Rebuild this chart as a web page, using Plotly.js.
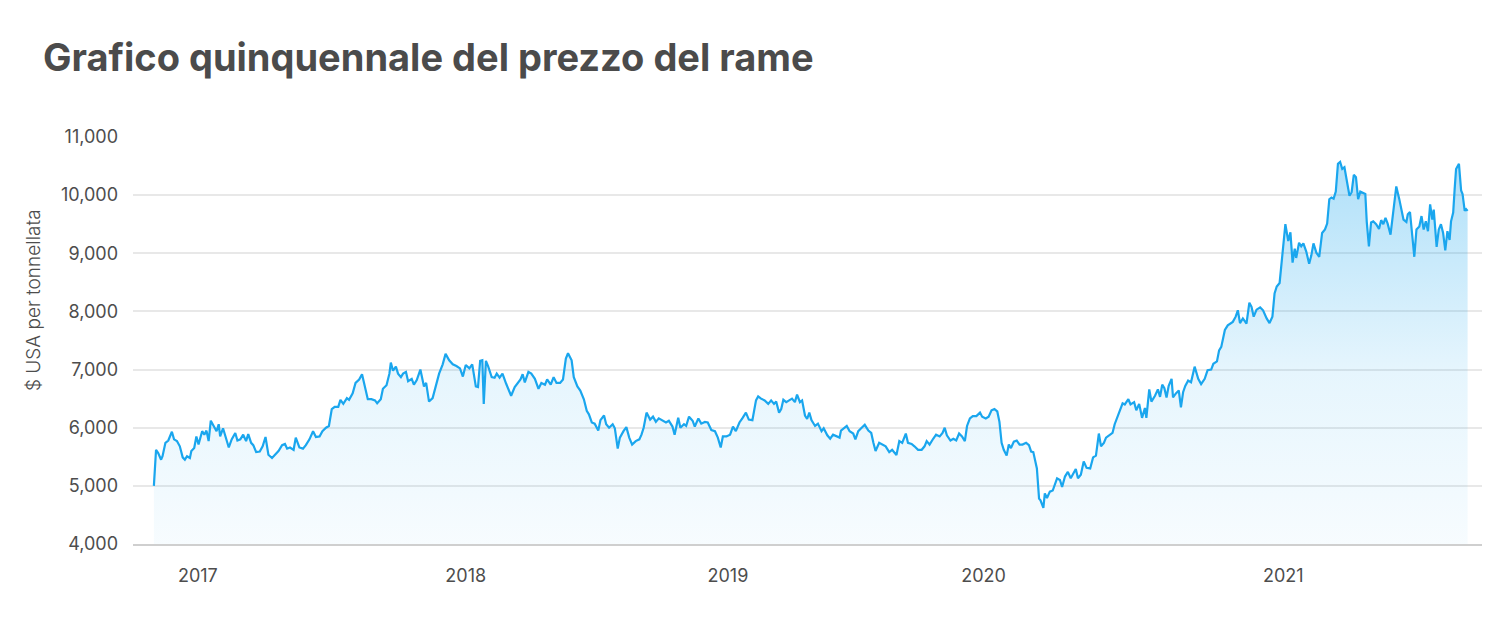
<!DOCTYPE html>
<html>
<head>
<meta charset="utf-8">
<script src="https://cdn.plot.ly/plotly-3.0.1.min.js"></script>
<style>
  html, body { margin: 0; padding: 0; background: #ffffff; }
  #chart { width: 1500px; height: 628px; }
</style>
</head>
<body>
<div id="chart"></div>
<script>
// Copper price, US$ per tonne
const dates2016_2017 = [
  '2016-11-08','2016-11-11','2016-11-14','2016-11-18','2016-11-20','2016-11-24','2016-11-28','2016-12-03','2016-12-06','2016-12-10',
  '2016-12-14','2016-12-18','2016-12-21','2016-12-24','2016-12-28','2016-12-30','2017-01-03','2017-01-06','2017-01-09','2017-01-14',
  '2017-01-17','2017-01-20','2017-01-23','2017-01-26','2017-01-30','2017-02-03','2017-02-06','2017-02-08','2017-02-12','2017-02-16',
  '2017-02-20','2017-02-24','2017-03-01','2017-03-04','2017-03-08','2017-03-12','2017-03-16','2017-03-19','2017-03-23','2017-03-26',
  '2017-03-30','2017-04-04','2017-04-08','2017-04-12','2017-04-16','2017-04-21','2017-04-25','2017-04-30','2017-05-05','2017-05-09',
  '2017-05-12','2017-05-16','2017-05-21','2017-05-24','2017-05-29','2017-06-03','2017-06-07','2017-06-12','2017-06-17','2017-06-21',
  '2017-06-26','2017-06-30','2017-07-05','2017-07-09','2017-07-13','2017-07-17','2017-07-22','2017-07-25','2017-07-29','2017-08-03',
  '2017-08-06','2017-08-11','2017-08-15','2017-08-20','2017-08-24','2017-08-28','2017-09-01','2017-09-06','2017-09-11','2017-09-14',
  '2017-09-19','2017-09-22','2017-09-27','2017-10-01','2017-10-03','2017-10-06','2017-10-10','2017-10-13','2017-10-17','2017-10-20',
  '2017-10-24','2017-10-27','2017-11-01','2017-11-04','2017-11-08','2017-11-13','2017-11-18','2017-11-21','2017-11-25','2017-11-30',
  '2017-12-04','2017-12-09','2017-12-14','2017-12-18','2017-12-23','2017-12-28'
];
const prices2016_2017 = [
  5000,5620,5565,5450,5510,5740,5780,5930,5800,5770,
  5680,5490,5450,5510,5480,5600,5650,5850,5710,5940,
  5880,5950,5770,6120,6030,5940,6060,5850,5990,5800,
  5660,5800,5910,5780,5800,5880,5770,5890,5740,5700,
  5580,5590,5680,5840,5535,5480,5535,5600,5700,5720,
  5640,5660,5620,5830,5660,5640,5700,5800,5940,5840,
  5850,5940,6000,6030,6320,6360,6360,6480,6410,6510,
  6480,6590,6770,6830,6920,6730,6490,6490,6470,6420,
  6490,6670,6730,6930,7120,6980,7050,6930,6870,6930,
  6960,6800,6840,6740,6820,7000,6710,6770,6450,6510,
  6700,6930,7090,7270,7160,7090
];

const dates2018 = [
  '2018-01-02','2018-01-07','2018-01-11','2018-01-15','2018-01-20','2018-01-24','2018-01-29','2018-02-01','2018-02-04','2018-02-07',
  '2018-02-09','2018-02-12','2018-02-15','2018-02-20','2018-02-24','2018-02-27','2018-03-03','2018-03-07','2018-03-12','2018-03-16',
  '2018-03-19','2018-03-24','2018-03-29','2018-04-01','2018-04-04','2018-04-07','2018-04-12','2018-04-16','2018-04-21','2018-04-26',
  '2018-04-30','2018-05-05','2018-05-08','2018-05-13','2018-05-17','2018-05-21','2018-05-26','2018-05-30','2018-06-03','2018-06-06',
  '2018-06-11','2018-06-14','2018-06-19','2018-06-23','2018-06-28','2018-07-02','2018-07-05','2018-07-09','2018-07-13','2018-07-18',
  '2018-07-21','2018-07-26','2018-07-29','2018-08-02','2018-08-07','2018-08-10','2018-08-14','2018-08-17','2018-08-22','2018-08-26',
  '2018-08-30','2018-09-03','2018-09-08','2018-09-13','2018-09-16','2018-09-19','2018-09-23','2018-09-28','2018-10-02','2018-10-06',
  '2018-10-10','2018-10-15','2018-10-20','2018-10-24','2018-10-29','2018-11-01','2018-11-06','2018-11-09','2018-11-14','2018-11-17',
  '2018-11-21','2018-11-26','2018-11-29','2018-12-04','2018-12-08','2018-12-13','2018-12-17','2018-12-22','2018-12-27','2018-12-31'
];
const prices2018 = [
  7060,7020,6880,7080,7020,7090,6710,6700,7150,7160,
  6410,7150,7060,6870,6860,6930,6860,6930,6760,6640,
  6550,6700,6770,6830,6920,6780,6960,6930,6840,6670,
  6770,6740,6830,6740,6870,6770,6770,6830,7190,7280,
  7160,6870,6710,6640,6490,6290,6230,6090,6070,5950,
  6130,6210,6060,6000,6060,5990,5640,5830,5940,6010,
  5830,5710,5770,5800,5880,6000,6260,6140,6190,6100,
  6160,6120,6090,6120,6020,5880,6170,6000,6060,6030,
  6190,6120,6020,6160,6070,6100,6090,5960,5940,5830
];

const dates2019 = [
  '2019-01-04','2019-01-07','2019-01-12','2019-01-17','2019-01-21','2019-01-25','2019-01-30','2019-02-03','2019-02-08','2019-02-12',
  '2019-02-17','2019-02-22','2019-02-25','2019-03-01','2019-03-06','2019-03-11','2019-03-15','2019-03-19','2019-03-22','2019-03-26',
  '2019-03-29','2019-04-01','2019-04-05','2019-04-09','2019-04-13','2019-04-17','2019-04-20','2019-04-24','2019-04-27','2019-05-01',
  '2019-05-04','2019-05-07','2019-05-10','2019-05-15','2019-05-19','2019-05-24','2019-05-27','2019-06-01','2019-06-05','2019-06-09',
  '2019-06-14','2019-06-18','2019-06-20','2019-06-25','2019-06-28','2019-07-02','2019-07-07','2019-07-10','2019-07-14','2019-07-18',
  '2019-07-23','2019-07-28','2019-08-01','2019-08-04','2019-08-07','2019-08-12','2019-08-16','2019-08-21','2019-08-26','2019-08-30',
  '2019-09-05','2019-09-09','2019-09-13','2019-09-18','2019-09-21','2019-09-26','2019-09-30','2019-10-05','2019-10-10','2019-10-14',
  '2019-10-17','2019-10-21','2019-10-26','2019-10-30','2019-11-04','2019-11-08','2019-11-11','2019-11-14','2019-11-19','2019-11-23',
  '2019-11-27','2019-12-01','2019-12-05','2019-12-09','2019-12-12','2019-12-16','2019-12-20','2019-12-25','2019-12-30'
];
const prices2019 = [
  5660,5850,5850,5880,6020,5940,6090,6160,6260,6140,
  6130,6470,6540,6500,6470,6410,6470,6410,6450,6260,
  6320,6480,6440,6470,6500,6440,6570,6440,6470,6210,
  6150,6260,6130,6030,6070,5940,5990,5870,5810,5880,
  5850,5830,5950,6000,6030,5940,5900,5800,5940,5990,
  6050,5950,5910,5740,5600,5740,5710,5680,5580,5620,
  5530,5770,5740,5900,5740,5720,5680,5620,5620,5680,
  5770,5710,5810,5880,5850,5910,6000,5870,5780,5810,
  5780,5900,5850,5770,6030,6160,6200,6200,6260
];

const dates2020 = [
  '2020-01-02','2020-01-07','2020-01-11','2020-01-15','2020-01-19','2020-01-23','2020-01-26','2020-01-29','2020-02-01','2020-02-05',
  '2020-02-08','2020-02-11','2020-02-15','2020-02-19','2020-02-23','2020-02-27','2020-03-03','2020-03-07','2020-03-10','2020-03-13',
  '2020-03-16','2020-03-18','2020-03-21','2020-03-23','2020-03-27','2020-03-29','2020-04-01','2020-04-05','2020-04-09','2020-04-12',
  '2020-04-15','2020-04-19','2020-04-22','2020-04-26','2020-04-30','2020-05-04','2020-05-07','2020-05-11','2020-05-14','2020-05-18',
  '2020-05-22','2020-05-26','2020-05-31','2020-06-04','2020-06-08','2020-06-12','2020-06-15','2020-06-19','2020-06-22','2020-06-27',
  '2020-07-01','2020-07-04','2020-07-07','2020-07-11','2020-07-15','2020-07-18','2020-07-23','2020-07-26','2020-07-31','2020-08-03',
  '2020-08-07','2020-08-11','2020-08-15','2020-08-17','2020-08-21','2020-08-24','2020-08-29','2020-09-02','2020-09-05','2020-09-08',
  '2020-09-11','2020-09-14','2020-09-17','2020-09-21','2020-09-23','2020-09-27','2020-10-01','2020-10-04','2020-10-07','2020-10-10',
  '2020-10-14','2020-10-18','2020-10-23','2020-10-28','2020-11-01','2020-11-06','2020-11-10','2020-11-15','2020-11-18','2020-11-23',
  '2020-11-26','2020-11-29','2020-12-04','2020-12-08','2020-12-12','2020-12-15','2020-12-19','2020-12-22','2020-12-25','2020-12-29'
];
const prices2020 = [
  6190,6160,6190,6300,6320,6280,6100,5740,5620,5520,
  5710,5650,5760,5780,5710,5710,5740,5700,5590,5580,
  5420,5300,4780,4750,4620,4870,4790,4900,4920,5040,
  5130,5100,4980,5160,5240,5130,5190,5290,5130,5190,
  5420,5310,5300,5490,5520,5900,5680,5740,5830,5870,
  5910,6060,6160,6320,6420,6400,6490,6400,6440,6300,
  6410,6170,6340,6170,6660,6450,6550,6660,6530,6740,
  6680,6520,6720,6840,6520,6590,6640,6350,6610,6720,
  6810,6780,7050,6840,6750,6840,6990,7000,7100,7140,
  7330,7390,7680,7760,7800,7820,7910,8020,7800,7880
];

const dates2021 = [
  '2021-01-03','2021-01-07','2021-01-10','2021-01-13','2021-01-17','2021-01-22','2021-01-26','2021-01-31','2021-02-04','2021-02-08',
  '2021-02-11','2021-02-14','2021-02-18','2021-02-20','2021-02-24','2021-02-26','2021-03-02','2021-03-05','2021-03-08','2021-03-11',
  '2021-03-13','2021-03-17','2021-03-20','2021-03-23','2021-03-27','2021-03-31','2021-04-03','2021-04-06','2021-04-10','2021-04-14',
  '2021-04-18','2021-04-22','2021-04-25','2021-04-28','2021-05-01','2021-05-04','2021-05-07','2021-05-10','2021-05-13','2021-05-16',
  '2021-05-19','2021-05-23','2021-05-26','2021-05-29','2021-06-01','2021-06-04','2021-06-07','2021-06-10','2021-06-14','2021-06-17',
  '2021-06-19','2021-06-22','2021-06-25','2021-06-28','2021-07-02','2021-07-06','2021-07-09','2021-07-12','2021-07-15','2021-07-18',
  '2021-07-22','2021-07-25','2021-07-28','2021-07-30','2021-08-03','2021-08-06','2021-08-09','2021-08-13','2021-08-15','2021-08-18',
  '2021-08-21','2021-08-24','2021-08-27','2021-08-31','2021-09-03','2021-09-06','2021-09-09','2021-09-12','2021-09-15','2021-09-18',
  '2021-09-20','2021-09-24','2021-09-27','2021-09-30','2021-10-03','2021-10-06','2021-10-09','2021-10-12','2021-10-14','2021-10-17',
  '2021-10-19','2021-10-21','2021-10-25','2021-10-28','2021-10-30','2021-11-02','2021-11-04','2021-11-06'
];
const prices2021 = [
  7790,8150,8080,7910,8030,8070,8020,7880,7800,7910,
  8310,8430,8490,8720,9150,9500,9210,9360,8840,9080,
  8920,9180,9120,9170,9030,8820,8960,9170,9010,8940,
  9350,9410,9510,9930,9960,9940,10060,10540,10570,10450,
  10480,10170,9990,10050,10350,10310,9930,10060,10030,10020,
  9540,9120,9530,9550,9500,9420,9570,9500,9610,9510,
  9320,9610,9930,10150,9940,9760,9580,9540,9670,9710,
  9350,8940,9410,9460,9640,9410,9550,9380,9840,9580,
  9750,9110,9410,9500,9350,9050,9380,9230,9550,9700,
  10100,10450,10540,10080,10020,9730,9760,9730
];

// Axis labels
const yearTickDates = ['2017-01-08','2018-01-15','2019-01-14','2020-01-04','2021-02-23'];
const yearTickLabels = ['2017','2018','2019','2020','2021'];
const priceTicks = [4000,5000,6000,7000,8000,9000,10000,11000];

const chartTitle = 'Grafico quinquennale del prezzo del rame';
const yAxisTitle = '$ USA per tonnellata';

const allDates = [].concat(dates2016_2017, dates2018, dates2019, dates2020, dates2021);
const allPrices = [].concat(prices2016_2017, prices2018, prices2019, prices2020, prices2021);

const lineColor = '#1aa6ee';
const fontFamily = 'Inter, "Open Sans", sans-serif';

const trace = {
  type: 'scatter',
  mode: 'lines',
  x: allDates,
  y: allPrices,
  line: { color: lineColor, width: 2.2 },
  fill: 'tozeroy',
  fillgradient: {
    type: 'vertical',
    start: 4000,
    stop: 10600,
    colorscale: [
      [0, 'rgba(26,166,238,0.035)'],
      [0.45, 'rgba(26,166,238,0.11)'],
      [1, 'rgba(26,166,238,0.35)']
    ]
  },
  hoverinfo: 'skip'
};

const layout = {
  width: 1500,
  height: 628,
  margin: { l: 133, r: 18, t: 137, b: 84 },
  paper_bgcolor: '#ffffff',
  plot_bgcolor: '#ffffff',
  showlegend: false,
  title: {
    text: chartTitle,
    x: 43 / 1500,
    xref: 'container',
    xanchor: 'left',
    y: 1 - 58 / 628,
    yref: 'container',
    yanchor: 'middle',
    font: { family: fontFamily, size: 38, weight: 700, color: '#4b4b4b' }
  },
  xaxis: {
    type: 'date',
    range: ['2016-10-10', '2021-11-26'],
    tickmode: 'array',
    tickvals: yearTickDates,
    ticktext: yearTickLabels,
    showgrid: false,
    zeroline: false,
    showline: true,
    linecolor: '#cfcfcf',
    linewidth: 2,
    ticks: '',
    ticklabelstandoff: 14,
    tickfont: { family: fontFamily, size: 18, color: '#4d4d4d' },
    fixedrange: true
  },
  yaxis: {
    range: [4000, 11000],
    tickmode: 'array',
    tickvals: priceTicks,
    tickformat: ',d',
    showgrid: true,
    gridcolor: '#e8e8e8',
    gridwidth: 2,
    zeroline: false,
    showline: false,
    ticks: '',
    ticklabelstandoff: 14,
    tickfont: { family: fontFamily, size: 18, color: '#4d4d4d' },
    fixedrange: true
  },
  annotations: [{
    text: yAxisTitle,
    xref: 'paper',
    yref: 'paper',
    x: (33 - 133) / 1349,
    y: (544 - 300) / 407,
    xanchor: 'center',
    yanchor: 'middle',
    textangle: -90,
    showarrow: false,
    font: { family: fontFamily, size: 19, weight: 300, color: '#4d4d4d' }
  }]
};

Plotly.newPlot('chart', [trace], layout, { displayModeBar: false, staticPlot: true });
</script>
</body>
</html>
